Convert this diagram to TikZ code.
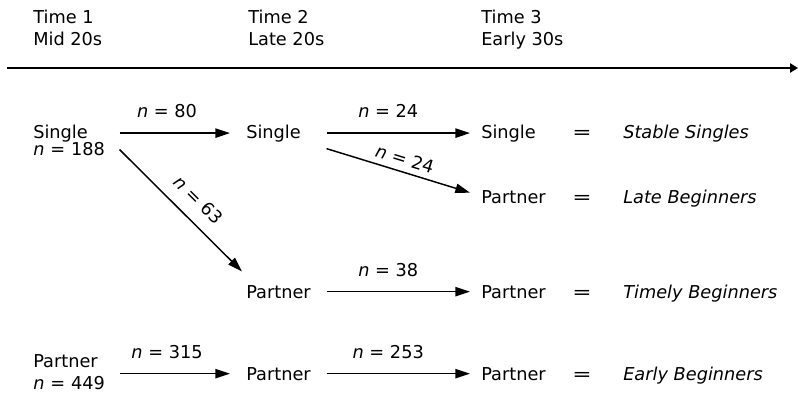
\documentclass[tikz,border=0pt]{standalone}
\usepackage{fontspec}
\setmainfont{DejaVu Sans}
\usetikzlibrary{arrows.meta}
\newcommand{\figfont}{\fontsize{13.3}{16}\selectfont}
\tikzset{
  flow/.style={-{Triangle[length=11pt,width=7pt]}, line width=1.1pt},
  timeline/.style={-{Triangle[length=6pt,width=7pt]}, line width=1.1pt},
  col1/.style={anchor=base west, text width=64.5pt, inner xsep=0pt, inner ysep=2pt, align=left},
  col2/.style={anchor=base west, text width=48pt, inner xsep=12pt, inner ysep=2pt, align=left},
  col3/.style={anchor=base west, text width=60pt, inner xsep=8.25pt, inner ysep=2pt, align=left},
  head/.style={anchor=north west, inner sep=0pt, align=left},
  eqs/.style={anchor=base, inner sep=0pt},
  result/.style={anchor=base west, inner sep=0pt, font=\figfont\itshape},
  count/.style={above=11pt, pos=0.43, inner sep=0pt},
}
\begin{document}
\begin{tikzpicture}[x=0.75pt, y=-0.75pt, every node/.style={font=\figfont}]
  \useasboundingbox (0,0) rectangle (798,392);
  % time axis
  \node[head] (h1) at (33,10) {Time 1\\Mid 20s};
  \node[head] (h2) at (248,10) {Time 2\\Late 20s};
  \node[head] (h3) at (481,10) {Time 3\\Early 30s};
  \coordinate (t0) at (7,68);
  \coordinate (t1) at (798,68);
  \draw[timeline] (t0) -- (t1);

  % time 1
  \node[col1] (s1) at (33,138) {Single};
  \node[col1] (s1n) at (33,156) {\textit{n} = 188};
  \node[col1] (q1) at (33,367) {Partner};
  \node[col1] (q1n) at (33,389) {\textit{n} = 449};
  % time 2
  \node[col2] (s2) at (230,138) {Single};
  \node[col2] (p2) at (230,298) {Partner};
  \node[col2] (q2) at (230,380) {Partner};
  % time 3
  \node[col3] (s3) at (470,138) {Single};
  \node[col3] (l3) at (470,203) {Partner};
  \node[col3] (p3) at (470,298) {Partner};
  \node[col3] (q3) at (470,380) {Partner};
  % groups
  \node[eqs] (e1) at (582,138) {\scalebox{1.3}[1]{=}};
  \node[eqs] (e2) at (582,203) {\scalebox{1.3}[1]{=}};
  \node[eqs] (e3) at (582,298) {\scalebox{1.3}[1]{=}};
  \node[eqs] (e4) at (582,380) {\scalebox{1.3}[1]{=}};
  \node[result] (g1) at (623,138) {Stable Singles};
  \node[result] (g2) at (623,203) {Late Beginners};
  \node[result] (g3) at (623,298) {Timely Beginners};
  \node[result] (g4) at (623,380) {Early Beginners};

  % transitions
  \draw[flow] (s1.east |- s2.west) -- node[count] {\textit{n} = 80} (s2.west);
  \draw[flow] (s1n.east) -- node[sloped, above=9.4pt, pos=0.53, inner sep=0pt] {\textit{n} = 63} ([xshift=9pt,yshift=8pt]p2.north west);
  \draw[flow] (s2.east) -- node[count] {\textit{n} = 24} (s3.west);
  \draw[flow] ([yshift=-3pt]s2.south east) -- node[sloped, above=4.5pt, pos=0.52, inner sep=0pt] {\textit{n} = 24} ([yshift=3pt]l3.west);
  \draw[flow] (p2.east) -- node[count] {\textit{n} = 38} (p3.west);
  \draw[flow] (q1.east |- q2.west) -- node[count] {\textit{n} = 315} (q2.west);
  \draw[flow] (q2.east) -- node[count] {\textit{n} = 253} (q3.west);
\end{tikzpicture}
\end{document}
